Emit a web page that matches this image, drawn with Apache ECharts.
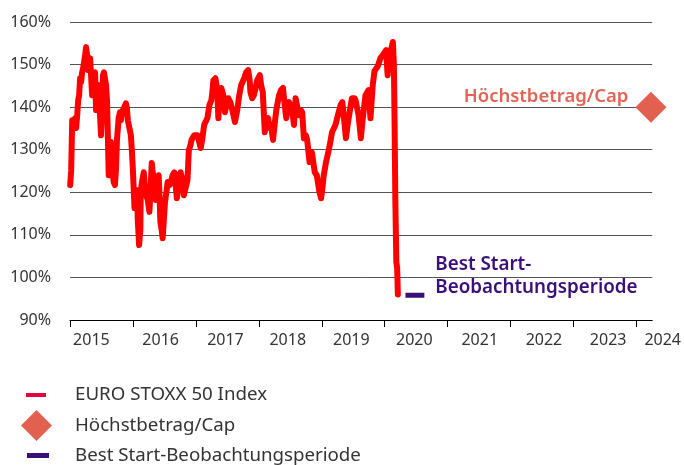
<!DOCTYPE html>
<html><head><meta charset="utf-8">
<script src="https://cdn.jsdelivr.net/npm/echarts@6/dist/echarts.min.js"></script>
<style>html,body{margin:0;padding:0;background:#fff}#c{width:684px;height:465px}</style>
</head><body><div id="c"></div>
<script>
// EURO STOXX 50 Index, relative level in % (decimal year -> value)
const dates = [
2015.003,2015.019,2015.035,2015.058,2015.082,2015.098,2015.114,2015.130,2015.145,2015.161,2015.177,2015.193,2015.209,2015.224,2015.240,2015.256,2015.272,2015.288,2015.303,2015.319,2015.335,2015.351,2015.367,2015.382,2015.398,2015.414,2015.430,2015.446,2015.461,2015.477,2015.493,2015.509,2015.524,2015.540,2015.556,2015.572,2015.588,2015.603,2015.615,2015.635,2015.651,2015.667,2015.694,2015.714,2015.730,2015.746,2015.773,2015.793,2015.809,2015.825,2015.856,2015.888,2015.904,2015.919,2015.935,2015.967,2015.983,2015.998,
2016.025,2016.038,2016.062,2016.077,2016.098,2016.117,2016.125,2016.149,2016.172,2016.188,2016.212,2016.235,2016.262,2016.283,2016.299,2016.314,2016.338,2016.362,2016.378,2016.409,2016.425,2016.436,2016.457,2016.472,2016.496,2016.509,2016.536,2016.551,2016.583,2016.603,2016.630,2016.657,2016.678,2016.698,2016.725,2016.736,2016.757,2016.788,2016.809,2016.836,2016.867,2016.888,2016.915,2016.931,2016.973,2016.994,
2017.025,2017.077,2017.104,2017.131,2017.152,2017.183,2017.215,2017.246,2017.262,2017.278,2017.310,2017.325,2017.341,2017.357,2017.373,2017.404,2017.436,2017.463,2017.483,2017.515,2017.547,2017.578,2017.621,2017.657,2017.689,2017.720,2017.768,2017.799,2017.831,2017.855,2017.867,2017.894,2017.921,2017.942,2017.973,
2018.016,2018.036,2018.063,2018.095,2018.115,2018.147,2018.174,2018.194,2018.226,2018.258,2018.278,2018.321,2018.352,2018.384,2018.411,2018.436,2018.463,2018.479,2018.510,2018.531,2018.558,2018.585,2018.605,2018.637,2018.668,2018.689,2018.716,2018.747,2018.768,2018.806,2018.842,2018.889,2018.921,2018.964,2018.989,
2019.016,2019.032,2019.068,2019.111,2019.142,2019.163,2019.217,2019.269,2019.300,2019.327,2019.348,2019.364,2019.384,2019.411,2019.427,2019.479,2019.521,2019.537,2019.585,2019.621,2019.648,2019.695,2019.743,2019.774,2019.810,2019.838,2019.890,2019.932,2019.969,
2020.022,2020.047,2020.074,2020.106,2020.130,2020.146,2020.157,2020.169,2020.185,2020.198,2020.209
];
const values = [
121.7,125.2,136.9,135.8,137.4,135.1,138.1,141.6,142.8,146.8,145.9,148.2,149.2,150.6,152.2,154.1,152.2,148.7,149.9,151.5,147.5,142.8,145.2,146.3,148.2,139.3,142.8,145.2,141.6,138.1,133.4,139.3,147.5,148.2,148.0,145.2,141.6,132.3,124.0,129.9,131.8,126.4,122.4,121.7,125.2,132.3,137.4,138.8,136.9,138.8,139.8,140.9,139.8,136.9,135.8,133.4,129.9,125.7,
116.3,119.3,120.5,113.5,107.6,111.1,120.5,122.9,124.7,121.7,119.3,118.2,115.4,121.7,126.9,124.7,122.9,118.2,121.7,124.0,118.2,113.0,111.1,109.2,114.6,117.7,120.5,122.4,121.7,122.4,124.0,124.7,121.7,118.6,121.7,124.0,124.7,122.9,119.3,121.0,122.9,129.9,131.1,132.3,133.4,133.0,
133.4,130.4,132.7,135.8,136.5,137.4,140.5,141.6,143.5,146.3,146.8,147.0,144.0,137.4,141.6,144.5,142.8,138.8,140.5,142.1,141.2,139.3,136.5,139.3,142.8,145.2,146.8,148.2,148.7,146.3,143.5,142.1,142.8,144.0,146.3,
147.5,145.2,143.5,134.1,136.9,137.4,135.1,135.8,132.3,136.9,139.3,142.8,144.0,144.5,140.5,137.4,140.5,141.2,141.6,139.3,135.8,142.1,140.5,138.1,139.3,138.8,132.7,133.4,132.3,127.1,129.4,124.7,124.0,120.0,118.6,
121.7,124.0,127.1,129.9,132.3,134.1,135.8,138.8,140.5,141.2,138.1,135.8,132.7,135.8,137.4,142.1,142.1,141.6,138.1,132.7,136.9,142.8,144.0,137.4,145.2,148.5,149.6,151.5,152.2,
153.4,147.5,152.9,153.8,155.3,150.0,136.2,118.2,103.6,102.2,96.0
];
// Höchstbetrag / Cap
const capDates = [2024.23];
const capValues = [140];
// Best Start-Beobachtungsperiode
const bestDates = [2020.33, 2020.63];
const bestValues = [95.8, 95.8];
// axis ticks
const yearTicks = [2015,2016,2017,2018,2019,2020,2021,2022,2023,2024];
const yMin = 90, yMax = 160, yStep = 10;

const seriesNames = ['EURO STOXX 50 Index', 'Höchstbetrag/Cap', 'Best Start-Beobachtungsperiode'];
const capLabel = 'Höchstbetrag/Cap';
const bestLabel = 'Best Start-\nBeobachtungsperiode';

const xMin = 2015, xMax = 2024.25;
// label anchor positions (layout only)
const labelShift = [0.34,0.44,0.47,0.46,0.47,0.47,0.51,0.53,0.55,0.25];
const labelPos = yearTicks.map((y,i)=> Math.min(xMax, y + labelShift[i]));

const FONT = 'Noto Sans';
const chart = echarts.init(document.getElementById('c'), null, {renderer:'canvas'});
const legendText = (pad)=>({fontSize:18.7, color:'#333', fontFamily:FONT, lineHeight:20, padding:[0,0,0,pad]});
chart.setOption({
  animation:false,
  textStyle:{fontFamily:FONT},
  grid:{left:70, right:29, top:22, bottom:145},
  xAxis:{
    type:'value', min:xMin, max:xMax,
    axisLine:{show:true, lineStyle:{color:'#000', width:1}},
    axisTick:{show:true, customValues:yearTicks, length:7, lineStyle:{color:'#000'}},
    axisLabel:{customValues:labelPos, margin:12, fontSize:16, color:'#333', fontFamily:FONT,
      formatter:(v)=>{const y=Math.floor(v+1e-6); return y===yearTicks[yearTicks.length-1] ? '{e|'+y+'}' : String(y);},
      rich:{e:{padding:[0,0,0,21], fontSize:16, color:'#333', fontFamily:FONT}}},
    splitLine:{show:false}
  },
  yAxis:{
    type:'value', min:yMin, max:yMax, interval:yStep,
    axisLine:{show:false}, axisTick:{show:false},
    axisLabel:{formatter:'{value}%', margin:19, fontSize:16, color:'#333', fontFamily:FONT},
    splitLine:{show:true, lineStyle:{color:'#555', width:1}}
  },
  legend:[
    {data:[{name:seriesNames[0], itemStyle:{color:'#e3063c'}}], orient:'vertical', left:26, top:385, padding:0,
     icon:'rect', itemWidth:20, itemHeight:4, selectedMode:false, textStyle:legendText(24)},
    {data:[{name:seriesNames[1], itemStyle:{color:'#e2604f', opacity:1}}], orient:'vertical', left:21, top:410, padding:0,
     icon:'diamond', itemWidth:31, itemHeight:31, selectedMode:false, textStyle:legendText(18)},
    {data:[{name:seriesNames[2]}], orient:'vertical', left:27, top:445.5, padding:0,
     icon:'rect', itemWidth:22, itemHeight:5, selectedMode:false, textStyle:legendText(21)}
  ],
  series:[
    {name:seriesNames[0], type:'line', data:dates.map((d,i)=>[d, values[i]]),
     symbol:'none', color:'#ff0000',
     lineStyle:{color:'#ff0000', width:6, cap:'round', join:'round'}, z:3},
    {name:seriesNames[1], type:'scatter', data:capDates.map((d,i)=>[d, capValues[i]]),
     symbol:'diamond', symbolSize:31, clip:false, color:'#e2604f', itemStyle:{color:'#e2604f', opacity:1},
     label:{show:true, position:'left', distance:7, offset:[0,-10], formatter:capLabel,
       color:'#e36455', fontSize:18.5, fontWeight:600, fontFamily:FONT}},
    {name:seriesNames[2], type:'line', data:bestDates.map((d,i)=>[d, bestValues[i]]),
     symbol:'none', color:'#3b0f78', lineStyle:{color:'#3b0f78', width:5},
     endLabel:{show:true, formatter:bestLabel, distance:11, offset:[0,-19], color:'#3b0f78',
       fontSize:18.8, fontWeight:600, lineHeight:23, fontFamily:FONT, align:'left'}}
  ]
});
</script></body></html>
